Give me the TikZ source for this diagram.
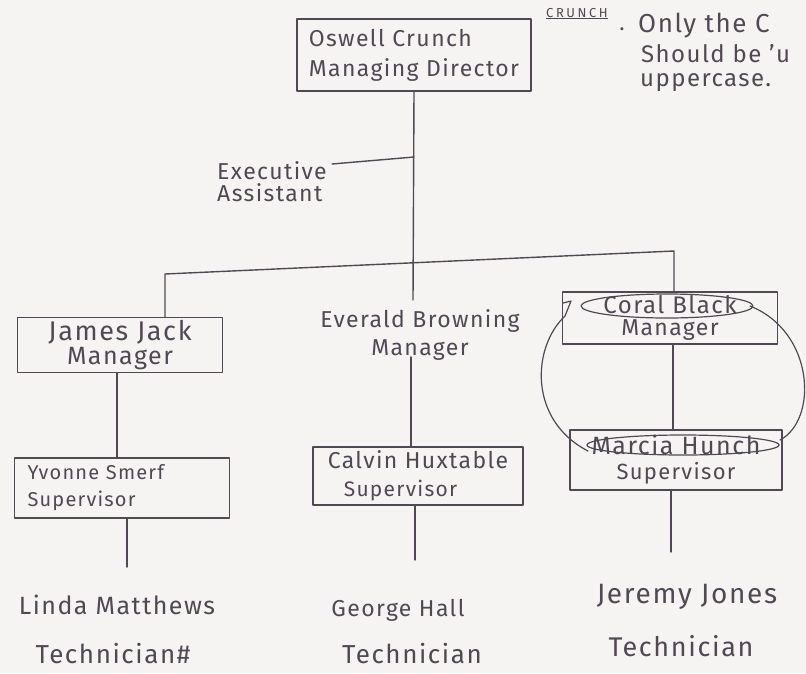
\documentclass[tikz,border=0pt]{standalone}
\usepackage{fontspec}
\setmainfont{Fira Sans}[LetterSpace=6]
\definecolor{inkc}{RGB}{82,72,84}
\definecolor{paper}{RGB}{246,244,243}
\newcommand\hwsz[2]{\fontsize{#1}{#2}\selectfont}
\begin{document}
\begin{tikzpicture}[x=1pt,y=-1pt,
  ink/.style={draw=inkc, line width=1.4pt, line cap=round, line join=round},
  loopline/.style={ink, line width=1.2pt},
  box/.style={ink, rectangle, inner sep=0pt, text=inkc},
  lbl/.style={text=inkc, inner sep=0pt, align=center},
]
\useasboundingbox (0,0) rectangle (806,673);
\fill[paper] (0,0) rectangle (806,673);

% boxes
\node[box, minimum width=234pt, minimum height=72pt, align=left, font=\hwsz{23}{30}] (od) at (414,55) {Oswell Crunch\\Managing Director};
\node[box, minimum width=205pt, minimum height=55pt, align=center, font=\hwsz{25}{24}] (jj) at (120,345) {{\hwsz{27}{24}James Jack}\\Manager};
\node[lbl, font=\hwsz{23}{28}] (eb) at (420,335) {Everald Browning\\Manager};
\node[box, minimum width=215pt, minimum height=52pt, align=center, font=\hwsz{23}{22}] (cb) at (670,318) {{\hwsz{24}{22}Coral\hspace{8pt}Black}\\Manager};
\node[box, minimum height=60pt, align=left, text width=189pt, inner xsep=13pt, font=\hwsz{20}{27}] (ys) at (122,488) {Yvonne Smerf\\Supervisor};
\node[box, minimum width=210pt, minimum height=58pt, align=left, font=\hwsz{21}{28}] (ch) at (418,476) {{\hwsz{23}{28}Calvin Huxtable}\\\hspace{16pt}Supervisor};
\node[box, minimum width=212pt, minimum height=60pt, align=center, font=\hwsz{22}{25}] (mh) at (676,460) {{\hwsz{25}{25}Marcia Hunch}\\Supervisor};

% executive assistant
\node[lbl, align=left, font=\hwsz{23}{22}] (ex) at (272,182) {Executive\\Assistant};

% technicians
\node[lbl, font=\hwsz{25}{30}] (lm) at (117,605) {Linda Matthews};
\node[lbl, font=\hwsz{26}{30}] (lmt) at (113,654) {Technician\#};
\node[lbl, font=\hwsz{23}{30}] (gh) at (398,610) {George Hall};
\node[lbl, font=\hwsz{26}{30}] (ght) at (412,654) {Technician};
\node[lbl, font=\hwsz{28}{30}] (jo) at (687,597) {Jeremy Jones};
\node[lbl, font=\hwsz{27}{30}] (jot) at (681,646) {Technician};

% note
\node[lbl, font=\hwsz{13}{16}\addfontfeature{LetterSpace=20}, anchor=base] (cr) at (577,17) {\underline{CRUNCH}};
\node[lbl, font=\hwsz{22}{22}, anchor=base] (dot) at (622,30) {.};
\node[lbl, font=\hwsz{26}{30}, anchor=base west] (n1) at (638,32) {Only the C};
\node[lbl, font=\hwsz{24}{30}, anchor=base west] (n2) at (641,62) {Should be 'u};
\node[lbl, font=\hwsz{24}{30}, anchor=base west] (n3) at (640,86) {uppercase.};

% coordinates
\coordinate (busL) at (165,274);
\coordinate (busR) at (674,251);
\coordinate (ea) at (414,157);
\coordinate (exend) at (332,164);
\coordinate (ebtop) at (413,300);
\coordinate (ebbot) at (411,357);
\coordinate (lmtop) at (127,567);
\coordinate (ghtop) at (415,560);
\coordinate (cbm) at (673,340);
\coordinate (jotop) at (671,552);

% connectors
\draw[ink] (od.south) -- (ebtop);
\draw[ink] (ea) -- (exend);
\draw[ink] (jj.north -| busL) -- (busL) -- (busR) -- (cb.north -| busR);
\draw[ink] (jj.south -| 117,0) -- (ys.north -| 117,0);
\draw[ink] (ys.south -| lmtop) -- (lmtop);
\draw[ink] (ebbot) -- (ch.north -| ebbot);
\draw[ink] (ch.south -| ghtop) -- (ghtop);
\draw[ink] (cb.south -| cbm) -- (mh.north -| cbm);
\draw[ink] (mh.south -| jotop) -- (jotop);

% loop around Coral Black and Marcia Hunch
\draw[loopline] (667,306) ellipse [x radius=86pt, y radius=12pt];
\draw[loopline] (683,445) ellipse [x radius=96pt, y radius=10pt];
\draw[loopline] (563,303) -- (571,301) -- (565,316)
  .. controls (532,347) and (528,420) .. (588,451);
\draw[loopline] (750,306) .. controls (815,332) and (818,420) .. (780,440);
\end{tikzpicture}
\end{document}
